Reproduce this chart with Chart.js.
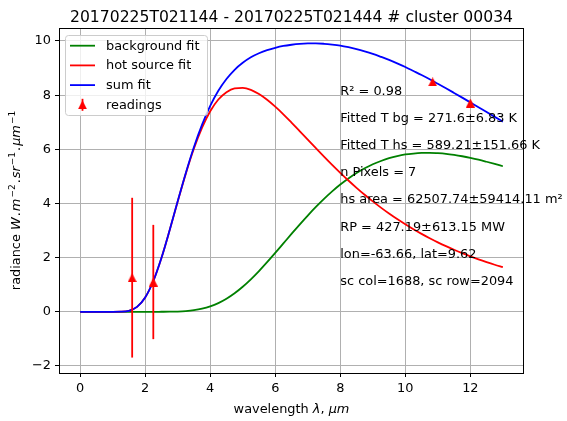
<!DOCTYPE html>
<html>
<head>
<meta charset="utf-8">
<script src="https://cdn.jsdelivr.net/npm/chart.js@4.4.1/dist/chart.umd.min.js"></script>
<style>
  html, body { margin: 0; padding: 0; background: #fff; }
  #plot { display: block; }
</style>
</head>
<body>
<canvas id="plot" width="567" height="421"></canvas>
<script>
// Wavelength grid of the fitted curves (µm)
const wavelength = [0, 0.25, 0.5, 0.75, 1, 1.25, 1.5, 1.75, 2, 2.25, 2.5, 2.75, 3, 3.25, 3.5, 3.75,
    4, 4.25, 4.5, 4.75, 5, 5.25, 5.5, 5.75, 6, 6.25, 6.5, 6.75, 7, 7.25, 7.5, 7.75, 8, 8.25, 8.5, 8.75,
    9, 9.25, 9.5, 9.75, 10, 10.25, 10.5, 10.75, 11, 11.25, 11.5, 11.75, 12, 12.25, 12.5, 12.75, 13];

// Background (cool) component
const bgFit = [0, 0, 0, 0, 0, 0, 0, 0, 0, 0, 0.001, 0.003, 0.010, 0.027, 0.059, 0.114,
    0.200, 0.322, 0.483, 0.685, 0.926, 1.201, 1.506, 1.834, 2.176, 2.526, 2.876, 3.222, 3.555, 3.872,
    4.169, 4.445, 4.699, 4.923, 5.123, 5.298, 5.447, 5.569, 5.673, 5.752, 5.810, 5.844, 5.866, 5.871,
    5.856, 5.832, 5.793, 5.744, 5.685, 5.618, 5.541, 5.460, 5.375];

// Hot source component
const hsFit = [0, 0, 0, 0, 0, 0.004, 0.038, 0.180, 0.528, 1.137, 1.987, 3.000, 4.070, 5.102, 6.029,
    6.800, 7.404, 7.839, 8.111, 8.252, 8.268, 8.197, 8.040, 7.828, 7.574, 7.292, 6.986, 6.672, 6.355,
    6.040, 5.728, 5.423, 5.130, 4.848, 4.578, 4.320, 4.077, 3.847, 3.629, 3.423, 3.230, 3.048, 2.877,
    2.716, 2.565, 2.423, 2.290, 2.165, 2.048, 1.938, 1.835, 1.738, 1.647];

// Total model
const sumFit = [0, 0, 0, 0, 0, 0.004, 0.038, 0.180, 0.528, 1.137, 1.988, 3.003, 4.080, 5.129, 6.088,
    6.914, 7.604, 8.161, 8.594, 8.937, 9.194, 9.398, 9.546, 9.662, 9.750, 9.818, 9.862, 9.894, 9.910,
    9.912, 9.897, 9.868, 9.829, 9.771, 9.701, 9.618, 9.524, 9.416, 9.302, 9.175, 9.040, 8.892, 8.743,
    8.587, 8.421, 8.255, 8.083, 7.909, 7.733, 7.556, 7.376, 7.198, 7.022];

// Band readings with their uncertainties
const readingsX = [1.6, 2.25, 10.84, 12.0];
const readingsY = [1.26, 1.10, 8.49, 7.71];
const readingsErr = [2.95, 2.11, 0.08, 0.08];

const xTicks = [0, 2, 4, 6, 8, 10, 12];
const yTicks = [-2, 0, 2, 4, 6, 8, 10];

const titleText = '20170225T021144 - 20170225T021444 # cluster 00034';

// Fit summary, one line per unit on the y axis starting at y=8
const fitInfo = [
    'R² = 0.98',
    'Fitted T bg = 271.6±6.83 K',
    'Fitted T hs = 589.21±151.66 K',
    'n Pixels = 7',
    'hs area = 62507.74±59414.11 m²',
    'RP = 427.19±613.15 MW',
    'lon=-63.66, lat=9.62',
    'sc col=1688, sc row=2094'
];

const legendItems = [
    { label: 'background fit', color: '#008000', kind: 'line' },
    { label: 'hot source fit', color: '#ff0000', kind: 'line' },
    { label: 'sum fit', color: '#0000ff', kind: 'line' },
    { label: 'readings', color: '#ff0000', kind: 'errorbar' }
];

const FONT = '"DejaVu Sans"';
const FS = 12.9;

function makeTriangle(w, h, color) {
    const c = document.createElement('canvas');
    c.width = w;
    c.height = h;
    const g = c.getContext('2d');
    g.fillStyle = color;
    g.beginPath();
    g.moveTo(w / 2, 0);
    g.lineTo(w, h);
    g.lineTo(0, h);
    g.closePath();
    g.fill();
    return c;
}
const triangle = makeTriangle(9, 9, '#ff0000');

function curve(ys) {
    return wavelength.map((w, i) => ({ x: w, y: ys[i] }));
}

function lineDataset(label, ys, color, order) {
    return {
        label: label,
        data: curve(ys),
        showLine: true,
        borderColor: color,
        borderWidth: 1.8,
        pointRadius: 0,
        cubicInterpolationMode: 'monotone',
        order: order
    };
}

const datasets = [
    lineDataset('background fit', bgFit, '#008000', 5),
    lineDataset('hot source fit', hsFit, '#ff0000', 4),
    lineDataset('sum fit', sumFit, '#0000ff', 3)
];

// vertical error bars, one small dataset each
readingsX.forEach((x, i) => {
    datasets.push({
        label: 'err' + i,
        data: [{ x: x, y: readingsY[i] - readingsErr[i] }, { x: x, y: readingsY[i] + readingsErr[i] }],
        showLine: true,
        borderColor: '#ff0000',
        borderWidth: 1.8,
        borderCapStyle: 'butt',
        pointRadius: 0,
        order: 2
    });
});

datasets.push({
    label: 'readings',
    data: readingsX.map((x, i) => ({ x: x, y: readingsY[i] })),
    showLine: false,
    pointStyle: triangle,
    pointRadius: 5,
    order: 1
});

// draws a run of text pieces with mixed fonts, left to right from x
function drawRuns(ctx, runs, x, y) {
    let cx = x;
    runs.forEach(r => {
        ctx.font = r.font;
        cx += r.gap || 0;
        ctx.fillText(r.text, cx, y - (r.dy || 0));
        cx += ctx.measureText(r.text).width + (r.after || 0);
    });
}

function runsWidth(ctx, runs) {
    let w = 0;
    runs.forEach(r => {
        ctx.font = r.font;
        w += ctx.measureText(r.text).width + (r.gap || 0) + (r.after || 0);
    });
    return w;
}

const normal = `${FS}px ${FONT}`;
const italic = `italic ${FS}px ${FONT}`;
const sup = `${(FS * 0.7).toFixed(1)}px ${FONT}`;

const yLabelRuns = [
    { text: 'radiance ', font: normal },
    { text: 'W', font: italic },
    { text: '.', font: normal, gap: 1 },
    { text: 'm', font: italic, gap: 1 },
    { text: '−2', font: sup, dy: 5, gap: 1, after: 1 },
    { text: '.', font: normal },
    { text: 'sr', font: italic, gap: 1 },
    { text: '−1', font: sup, dy: 5, gap: 1, after: 1 },
    { text: '.', font: normal },
    { text: 'μm', font: italic, gap: 1 },
    { text: '−1', font: sup, dy: 5, gap: 1 }
];

const xLabelRuns = [
    { text: 'wavelength ', font: normal },
    { text: 'λ', font: italic },
    { text: ', ', font: normal },
    { text: 'μm', font: italic }
];

function drawLegend(ctx) {
    const x0 = 65.5, y0 = 35.5, w = 142, h = 80, r = 3;
    ctx.save();
    ctx.beginPath();
    ctx.moveTo(x0 + r, y0);
    ctx.lineTo(x0 + w - r, y0);
    ctx.quadraticCurveTo(x0 + w, y0, x0 + w, y0 + r);
    ctx.lineTo(x0 + w, y0 + h - r);
    ctx.quadraticCurveTo(x0 + w, y0 + h, x0 + w - r, y0 + h);
    ctx.lineTo(x0 + r, y0 + h);
    ctx.quadraticCurveTo(x0, y0 + h, x0, y0 + h - r);
    ctx.lineTo(x0, y0 + r);
    ctx.quadraticCurveTo(x0, y0, x0 + r, y0);
    ctx.closePath();
    ctx.fillStyle = 'rgba(255,255,255,0.8)';
    ctx.fill();
    ctx.strokeStyle = '#cccccc';
    ctx.lineWidth = 1;
    ctx.stroke();

    ctx.font = normal;
    ctx.fillStyle = '#000';
    ctx.textAlign = 'left';
    ctx.textBaseline = 'alphabetic';
    legendItems.forEach((item, i) => {
        const cy = 45.7 + i * 19.7;
        if (item.kind === 'line') {
            ctx.strokeStyle = item.color;
            ctx.lineWidth = 1.8;
            ctx.beginPath();
            ctx.moveTo(70, cy);
            ctx.lineTo(95, cy);
            ctx.stroke();
        } else {
            ctx.strokeStyle = item.color;
            ctx.lineWidth = 1.8;
            ctx.beginPath();
            ctx.moveTo(82.5, cy - 6);
            ctx.lineTo(82.5, cy + 6);
            ctx.stroke();
            ctx.drawImage(triangle, 82.5 - 4.5, cy - 4.5);
        }
        ctx.fillStyle = '#000';
        ctx.fillText(item.label, 106, cy + 3.8);
    });
    ctx.restore();
}

const decorations = {
    id: 'decorations',
    afterDraw(chart) {
        const ctx = chart.ctx;
        const area = chart.chartArea;
        const sx = chart.scales.x;
        const sy = chart.scales.y;
        ctx.save();

        // axes frame
        ctx.strokeStyle = '#000';
        ctx.lineWidth = 1;
        ctx.strokeRect(Math.round(area.left) + 0.5, Math.round(area.top) + 0.5,
            Math.round(area.right - area.left) - 1, Math.round(area.bottom - area.top));

        // fit summary text
        ctx.fillStyle = '#000';
        ctx.font = normal;
        ctx.textAlign = 'left';
        ctx.textBaseline = 'alphabetic';
        fitInfo.forEach((t, i) => {
            ctx.fillText(t, sx.getPixelForValue(8), sy.getPixelForValue(8 - i));
        });

        // title
        ctx.font = `15.6px ${FONT}`;
        ctx.textAlign = 'center';
        ctx.fillText(titleText, (area.left + area.right) / 2, 21.5);

        // x axis label
        ctx.textAlign = 'left';
        const xw = runsWidth(ctx, xLabelRuns);
        drawRuns(ctx, xLabelRuns, (area.left + area.right) / 2 - xw / 2, 412.5);

        // y axis label, rotated
        const yw = runsWidth(ctx, yLabelRuns);
        ctx.save();
        ctx.translate(19.5, (area.top + area.bottom) / 2);
        ctx.rotate(-Math.PI / 2);
        drawRuns(ctx, yLabelRuns, -yw / 2, 0);
        ctx.restore();

        drawLegend(ctx);
        ctx.restore();
    }
};

function axisOptions(min, max, ticks, fit) {
    return {
        type: 'linear',
        min: min,
        max: max,
        afterBuildTicks: axis => { axis.ticks = ticks.map(v => ({ value: v })); },
        afterFit: fit,
        grid: { color: '#b0b0b0', lineWidth: 1, tickColor: '#000', tickLength: 4, tickWidth: 1 },
        border: { display: false },
        ticks: {
            color: '#000',
            font: { family: 'DejaVu Sans', size: FS },
            padding: 4,
            maxRotation: 0,
            autoSkip: false,
            callback: v => (v < 0 ? '−' + Math.abs(v) : String(v))
        }
    };
}

new Chart(document.getElementById('plot'), {
    type: 'scatter',
    data: { datasets: datasets },
    options: {
        responsive: false,
        animation: false,
        devicePixelRatio: 1,
        layout: { padding: { top: 28, right: 43, left: 0, bottom: 0 } },
        plugins: {
            legend: { display: false },
            tooltip: { enabled: false },
            title: { display: false }
        },
        scales: {
            x: axisOptions(-0.65, 13.65, xTicks, s => { s.height = 48; }),
            y: axisOptions(-2.26, 10.48, yTicks, s => { s.width = 59; })
        }
    },
    plugins: [decorations]
});
</script>
</body>
</html>
